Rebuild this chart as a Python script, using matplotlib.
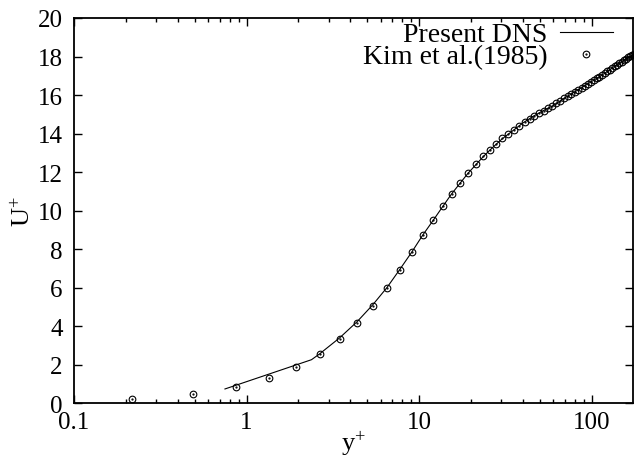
import numpy as np
import matplotlib
matplotlib.use("Agg")
import matplotlib.pyplot as plt
from matplotlib.ticker import LogLocator, FixedLocator, FixedFormatter, NullFormatter

# Kim et al.(1985) reference points
kim_y = [0.217, 0.488, 0.867, 1.354, 1.948, 2.650, 3.459, 4.374, 5.394, 6.520,
         7.751, 9.085, 10.52, 12.06, 13.70, 15.44, 17.28, 19.22, 21.25, 23.39,
         25.61, 27.93, 30.34, 32.84, 35.42, 38.10, 40.86, 43.70, 46.63, 49.64,
         52.72, 55.88, 59.12, 62.43, 65.81, 69.26, 72.77, 76.36, 80.00, 83.70,
         87.46, 91.28, 95.15, 99.07, 103.0, 107.1, 111.1, 115.2, 119.4, 123.5,
         127.8, 132.0, 136.3, 140.6, 144.9, 149.2, 153.6, 158.0, 162.4, 166.8,
         171.2, 175.6, 180.0]
kim_u = [0.19, 0.45, 0.83, 1.31, 1.89, 2.55, 3.32, 4.16, 5.06, 5.97,
         6.93, 7.83, 8.71, 9.51, 10.23, 10.87, 11.44, 11.97, 12.40, 12.81,
         13.16, 13.47, 13.75, 13.97, 14.20, 14.41, 14.58, 14.75, 14.91, 15.05,
         15.19, 15.32, 15.45, 15.58, 15.70, 15.82, 15.94, 16.05, 16.16, 16.27,
         16.37, 16.47, 16.57, 16.67, 16.77, 16.86, 16.96, 17.05, 17.14, 17.23,
         17.32, 17.41, 17.50, 17.58, 17.66, 17.74, 17.82, 17.89, 17.96, 18.02,
         18.07, 18.11, 18.13]

# present DNS profile
dns_y = [0.75, 2.38, 2.65, 3.46, 4.37, 5.39, 6.52, 7.75, 9.09, 10.5, 12.1,
         13.7, 15.4, 17.3, 19.2, 21.3, 23.4, 25.6, 27.9, 30.3, 35.0, 40.0,
         46.0, 52.0, 60.0, 70.0, 80.0, 92.0, 105.0, 120.0, 135.0, 150.0,
         165.0, 180.0]
dns_u = [0.73, 2.25, 2.55, 3.38, 4.22, 5.10, 6.00, 6.95, 7.85, 8.72, 9.50,
         10.20, 10.85, 11.42, 11.93, 12.37, 12.77, 13.12, 13.43, 13.72, 14.15,
         14.55, 14.90, 15.17, 15.45, 15.85, 16.17, 16.50, 16.82, 17.15, 17.48,
         17.75, 17.98, 18.13]

x_ticks = [0.1, 1, 10, 100]
x_ticklabels = ["0.1", "1", "10", "100"]
y_ticks = list(range(0, 21, 2))

plt.rcParams['font.family'] = ['Liberation Serif', 'DejaVu Serif']
plt.rcParams['mathtext.fontset'] = 'custom'
plt.rcParams['mathtext.rm'] = 'Liberation Serif'
plt.rcParams['mathtext.it'] = 'Liberation Serif:italic'

fig = plt.figure(figsize=(6.35, 4.6), dpi=100)
ax = fig.add_axes([0.1165, 0.1217, 0.8805, 0.837])

line, = ax.plot(dns_y, dns_u, color='k', lw=0.8, label='Present DNS')
circ, = ax.plot(kim_y, kim_u, 'o', mfc='none', mec='k', ms=4.8, mew=0.8)
dot, = ax.plot(kim_y, kim_u, '.', color='k', ms=1.2)

ax.set_xscale('log')
ax.set_xlim(0.1, 174)
ax.set_ylim(0, 20)
ax.xaxis.set_major_locator(FixedLocator(x_ticks))
ax.xaxis.set_major_formatter(FixedFormatter(x_ticklabels))
ax.xaxis.set_minor_locator(LogLocator(base=10, subs=np.arange(2, 10)))
ax.xaxis.set_minor_formatter(NullFormatter())
ax.set_yticks(y_ticks)

ax.tick_params(which='both', direction='in', top=True, right=True,
               labelsize=18, width=1.0)
ax.tick_params(which='major', length=6)
ax.tick_params(axis='y', which='major', pad=8)
ax.tick_params(axis='x', which='major', pad=6)
ax.tick_params(which='minor', length=3)
for s in ax.spines.values():
    s.set_linewidth(1.3)

ax.set_xlabel(r'y$^{+}$', fontsize=19, labelpad=-3)
ax.set_ylabel(r'U$^{+}$', fontsize=19, labelpad=2)

ax.legend([line, (circ, dot)], ['Present DNS', 'Kim et al.(1985)'],
          loc='upper right', bbox_to_anchor=(0.998, 1.04), frameon=False,
          markerfirst=False, fontsize=20, handlelength=1.9,
          handletextpad=0.45, labelspacing=-0.12, borderpad=0.2)

fig.savefig('out.png', dpi=100)
